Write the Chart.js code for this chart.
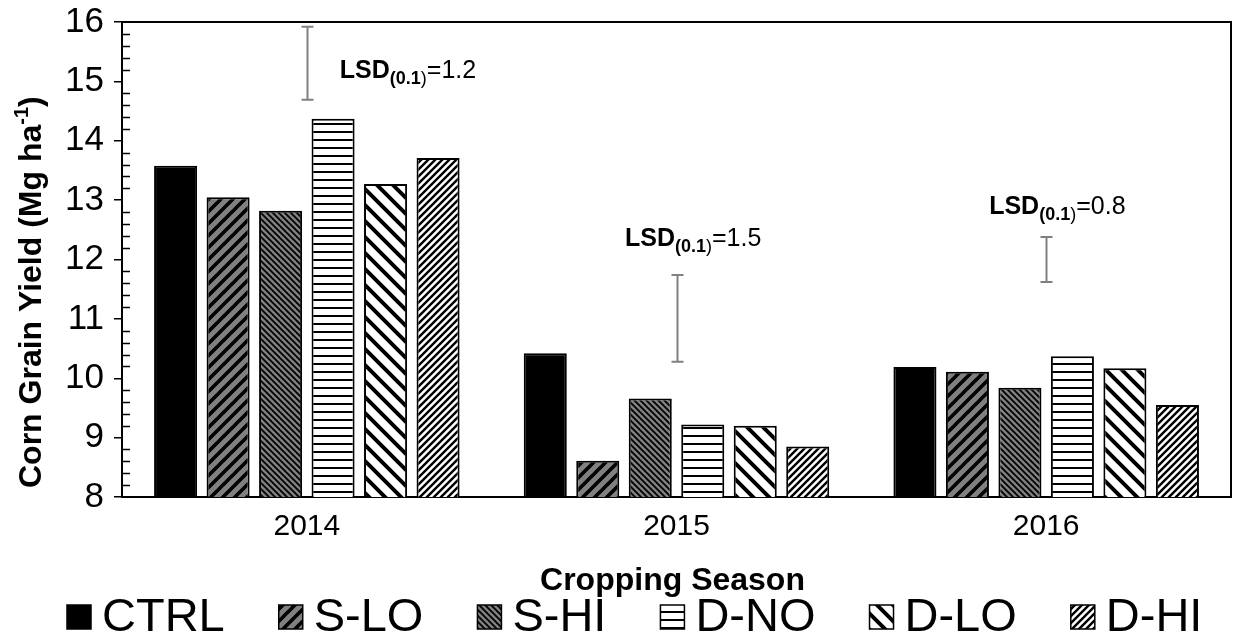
<!DOCTYPE html>
<html>
<head>
<meta charset="utf-8">
<script src="https://cdn.jsdelivr.net/npm/chart.js@4"></script>
<style>
  body { margin: 0; background: #fff; }
  #wrap { width: 1239px; height: 638px; position: relative; }
</style>
</head>
<body>
<div id="wrap"><canvas id="yield-chart"></canvas></div>
<script>
const seasons = ["2014", "2015", "2016"]
const treatments = ["CTRL", "S-LO", "S-HI", "D-NO", "D-LO", "D-HI"]

const ctrl = [13.58, 10.42, 10.19]
const sLo = [13.05, 8.61, 10.11]
const sHi = [12.82, 9.66, 9.84]
const dNo = [14.37, 9.22, 10.37]
const dLo = [13.27, 9.2, 10.17]
const dHi = [13.71, 8.85, 9.55]

// LSD bars (low / high end) and their labels
const lsdLow = [14.69, 10.28, 11.62]
const lsdHigh = [15.92, 11.74, 12.38]
const lsdText = ["1.2", "1.5", "0.8"]

const yMin = 8
const yMax = 16

const FONT = "'Liberation Sans', Arial, sans-serif"
const canvas = document.getElementById("yield-chart")
const ctx = canvas.getContext("2d")

// hatch fills like the excel patterns
function hatch(bg, fg, size, width, dir) {
  const c = document.createElement("canvas")
  c.width = size
  c.height = size
  const g = c.getContext("2d")
  g.fillStyle = bg
  g.fillRect(0, 0, size, size)
  g.strokeStyle = fg
  g.lineWidth = width
  g.beginPath()
  if (dir === "h") {
    g.moveTo(0, size / 2)
    g.lineTo(size, size / 2)
  } else {
    for (let k = -1; k <= 1; k++) {
      if (dir === "up") {
        g.moveTo(k * size - size, 2 * size)
        g.lineTo(k * size + 2 * size, -size)
      } else {
        g.moveTo(k * size - size, -size)
        g.lineTo(k * size + 2 * size, 2 * size)
      }
    }
  }
  g.stroke()
  return ctx.createPattern(c, "repeat")
}

const fills = [
  "#000000",
  hatch("#808080", "#000", 12, 3.6, "up"),
  hatch("#808080", "#000", 6, 1.8, "down"),
  hatch("#ffffff", "#000", 8, 2, "h"),
  hatch("#ffffff", "#000", 16, 4, "down"),
  hatch("#ffffff", "#000", 7, 2.4, "up"),
]
const series = [ctrl, sLo, sHi, dNo, dLo, dHi]

// frame, minor ticks, LSD bars, titles and legend
const extras = {
  id: "extras",
  afterDraw(chart) {
    const c = chart.ctx
    const a = chart.chartArea
    const x = chart.scales.x
    const y = chart.scales.y
    c.save()

    // top + right frame
    c.strokeStyle = "#000"
    c.lineWidth = 2
    c.beginPath()
    c.moveTo(a.left, a.top)
    c.lineTo(a.right, a.top)
    c.lineTo(a.right, a.bottom)
    c.stroke()

    // minor ticks inside
    c.lineWidth = 1.5
    c.beginPath()
    for (let v = yMin; v < yMax; v += 1) {
      for (let m = 1; m < 5; m++) {
        const py = Math.round(y.getPixelForValue(v + m * 0.2)) + 0.5
        c.moveTo(a.left, py)
        c.lineTo(a.left + 8, py)
      }
    }
    c.stroke()

    // LSD bars
    c.strokeStyle = "#808080"
    c.lineWidth = 2
    const labelPos = [
      { dx: 33, v: 15.06 },
      { dx: -51.5, v: 12.22 },
      { dx: -57, v: 12.77 },
    ]
    seasons.forEach((s, i) => {
      const px = Math.round(x.getPixelForValue(i)) + 0.5
      const top = y.getPixelForValue(lsdHigh[i])
      const bot = y.getPixelForValue(lsdLow[i])
      c.beginPath()
      c.moveTo(px, top)
      c.lineTo(px, bot)
      c.moveTo(px - 6, top)
      c.lineTo(px + 6, top)
      c.moveTo(px - 6, bot)
      c.lineTo(px + 6, bot)
      c.stroke()

      let tx = x.getPixelForValue(i) + labelPos[i].dx
      const ty = y.getPixelForValue(labelPos[i].v)
      c.fillStyle = "#000"
      c.textBaseline = "alphabetic"
      c.textAlign = "left"
      c.font = "bold 25px " + FONT
      c.fillText("LSD", tx, ty)
      tx += c.measureText("LSD").width
      c.font = "bold 18px " + FONT
      c.fillText("(0.1", tx, ty + 6)
      tx += c.measureText("(0.1").width
      c.font = "18px " + FONT
      c.fillText(")", tx, ty + 6)
      tx += c.measureText(")").width
      c.font = "25px " + FONT
      c.fillText("=" + lsdText[i], tx, ty)
    })

    // y title with superscript
    c.save()
    c.translate(41, 488)
    c.rotate(-Math.PI / 2)
    c.fillStyle = "#000"
    c.font = "bold 32px " + FONT
    c.fillText("Corn Grain Yield (Mg ha", 0, 0)
    let tw = c.measureText("Corn Grain Yield (Mg ha").width
    c.font = "bold 20px " + FONT
    c.fillText("-1", tw, -13)
    tw += c.measureText("-1").width
    c.font = "bold 32px " + FONT
    c.fillText(")", tw, 0)
    c.restore()

    // x title
    c.font = "bold 32px " + FONT
    c.textAlign = "center"
    c.fillStyle = "#000"
    c.fillText("Cropping Season", (a.left + a.right) / 2 - 4, 590)

    // legend
    c.textAlign = "left"
    c.font = "47px " + FONT
    const box = 24
    const gap = 11
    const pad = 54
    let lx = 67
    const ly = 631
    chart.data.datasets.forEach((d) => {
      c.fillStyle = d.backgroundColor
      c.fillRect(lx, ly - 26, box, box)
      c.strokeStyle = "#000"
      c.lineWidth = 1.5
      c.strokeRect(lx, ly - 26, box, box)
      c.fillStyle = "#000"
      c.fillText(d.label, lx + box + gap, ly)
      lx += box + gap + c.measureText(d.label).width + pad
    })

    c.restore()
  },
}

const yieldData = {
  labels: seasons,
  datasets: treatments.map((t, i) => ({
    label: t,
    data: series[i],
    backgroundColor: fills[i],
    borderColor: "#000",
    borderWidth: 2,
    categoryPercentage: 0.852,
    barPercentage: 0.82,
  })),
}

const yieldOptions = {
  responsive: true,
  maintainAspectRatio: false,
  animation: false,
  layout: {
    padding: { top: 22, right: 8, left: 0, bottom: 0 },
  },
  scales: {
    x: {
      grid: { display: false, drawTicks: false },
      border: { display: true, color: "#000", width: 2 },
      ticks: { color: "#000", padding: 12, font: { family: FONT, size: 30 } },
      afterFit: (scale) => {
        scale.height = 141
        scale.paddingLeft = 0
        scale.paddingRight = 0
      },
    },
    y: {
      min: yMin,
      max: yMax,
      grid: {
        display: true,
        drawOnChartArea: false,
        drawTicks: true,
        tickLength: 8,
        color: "#000",
        lineWidth: 1.5,
      },
      border: { display: true, color: "#000", width: 2 },
      ticks: {
        stepSize: 1,
        color: "#000",
        padding: 10,
        font: { family: FONT, size: 35 },
      },
      afterFit: (scale) => {
        scale.width = 122
        scale.paddingTop = 0
        scale.paddingBottom = 0
      },
    },
  },
  plugins: {
    legend: { display: false },
    tooltip: { enabled: false },
  },
}

let yieldChart = new Chart(canvas, {
  type: "bar",
  data: yieldData,
  options: yieldOptions,
  plugins: [extras],
})
</script>
</body>
</html>
